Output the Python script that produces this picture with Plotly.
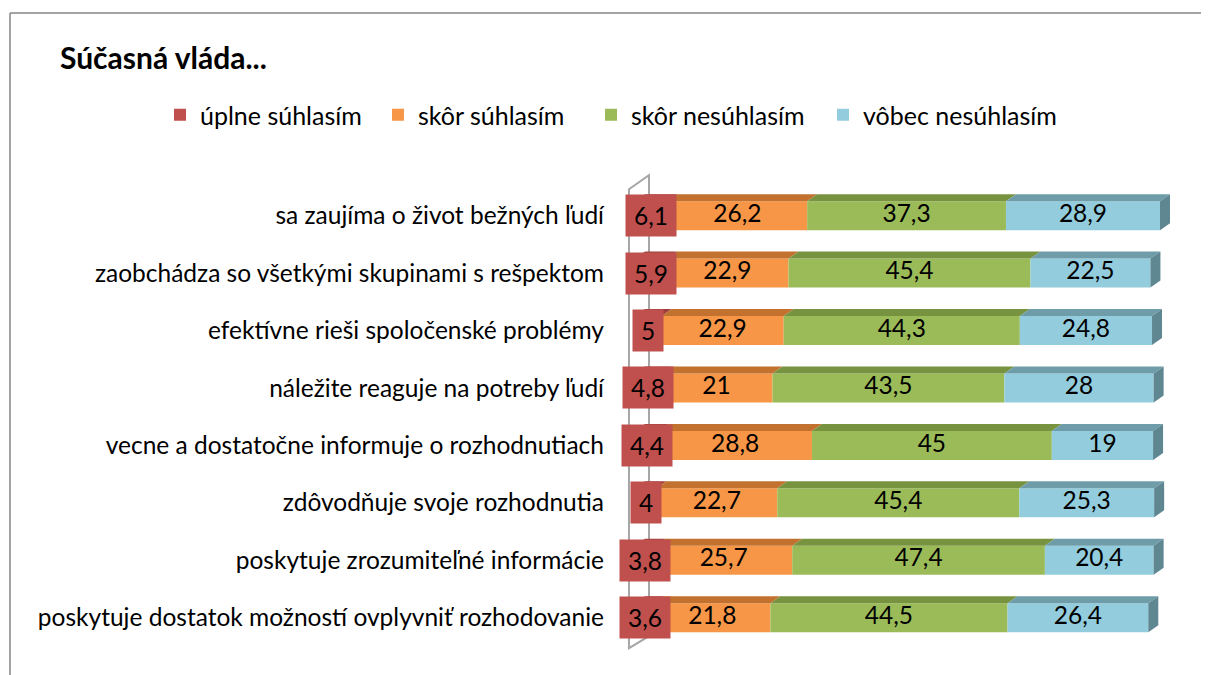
import plotly.graph_objects as go

# ---------------- data ----------------
categories = [
    "sa zaujíma o život bežných ľudí",
    "zaobchádza so všetkými skupinami s rešpektom",
    "efektívne rieši spoločenské problémy",
    "náležite reaguje na potreby ľudí",
    "vecne a dostatočne informuje o rozhodnutiach",
    "zdôvodňuje svoje rozhodnutia",
    "poskytuje zrozumiteľné informácie",
    "poskytuje dostatok možností ovplyvniť rozhodovanie",
]
series_names = ["úplne súhlasím", "skôr súhlasím", "skôr nesúhlasím", "vôbec nesúhlasím"]
uplne_suhlasim = [6.1, 5.9, 5.0, 4.8, 4.4, 4.0, 3.8, 3.6]
skor_suhlasim = [26.2, 22.9, 22.9, 21.0, 28.8, 22.7, 25.7, 21.8]
skor_nesuhlasim = [37.3, 45.4, 44.3, 43.5, 45.0, 45.4, 47.4, 44.5]
vobec_nesuhlasim = [28.9, 22.5, 24.8, 28.0, 19.0, 25.3, 20.4, 26.4]
title_text = "Súčasná vláda..."

# ---------------- style ----------------
FONT = "Lato"
LABEL_SIZE = 24.5
front_colors = ["#C0504D", "#F79646", "#9BBB59", "#93CDDD"]
top_colors = ["#9E3F3C", "#C2712F", "#789340", "#6E9CA9"]
side_color = "#5E8792"
legend_left_px = [160, 378, 591, 823]  # page px of each legend entry

OFF = 8  # default page body margin
W, H = 1209 - OFF, 675 - OFF
L, R, T, B = 619 - OFF, 25, 164 - OFF, 12
plot_w = W - L - R
plot_h = H - T - B
x_range = [-3, 103]
y_top = -0.9
px_per_y = 57.43
y_range = [y_top + plot_h / px_per_y, y_top]  # reversed
px_per_x = plot_w / (x_range[1] - x_range[0])

bar_w = 29 / px_per_y
dx = 10 / px_per_x
dy = 7 / px_per_y

series = [uplne_suhlasim, skor_suhlasim, skor_nesuhlasim, vobec_nesuhlasim]
rows = list(range(len(categories)))
legend_ids = ["legend", "legend2", "legend3", "legend4"]


def fmt(v):
    return f"{v:g}".replace(".", ",")


def px2paper_x(px):
    return (px - OFF - L) / plot_w


def px2paper_y(py):
    return (H - B - (py - OFF)) / plot_h


fig = go.Figure()

bases = []
acc = [0.0] * len(rows)
for s in series:
    bases.append(list(acc))
    acc = [a + v for a, v in zip(acc, s)]

for k, (name, vals) in enumerate(zip(series_names, series)):
    fig.add_trace(go.Bar(
        name=name, orientation="h", x=vals, y=rows, base=bases[k],
        width=bar_w, marker=dict(color=front_colors[k], line=dict(width=0)),
        hoverinfo="skip", legend=legend_ids[k],
    ))

lx, ly, lt = [], [], []
for k in range(1, 4):
    for r in rows:
        lx.append(bases[k][r] + series[k][r] / 2)
        ly.append(r)
        lt.append(fmt(series[k][r]))
fig.add_trace(go.Scatter(
    x=lx, y=ly, text=lt, mode="text", showlegend=False, hoverinfo="skip",
    textfont=dict(family=FONT, size=LABEL_SIZE, color="#000000"),
))

shapes = []
wx0, wx1 = -1.13, 2.63
wall = f"M {wx0},{-0.461} L {wx1},{-0.705} L {wx1},{7.322} L {wx0},{7.531} Z"
shapes.append(dict(type="path", path=wall, xref="x", yref="y",
                   line=dict(color="#A6A6A6", width=2), fillcolor="rgba(0,0,0,0)",
                   layer="below"))

for k in range(4):
    for r in rows:
        s = bases[k][r]
        e = s + series[k][r]
        yt = r - bar_w / 2
        yb = r + bar_w / 2
        path = f"M {s},{yt} L {e},{yt} L {e+dx},{yt-dy} L {s+dx},{yt-dy} Z"
        shapes.append(dict(type="path", path=path, xref="x", yref="y",
                           line=dict(width=0), fillcolor=top_colors[k], layer="above"))
        if k == 3:
            side = f"M {e},{yt} L {e+dx},{yt-dy} L {e+dx},{yb-dy} L {e},{yb} Z"
            shapes.append(dict(type="path", path=side, xref="x", yref="y",
                               line=dict(width=0), fillcolor=side_color, layer="above"))

shapes.append(dict(type="line", xref="paper", yref="paper",
                   x0=px2paper_x(10), x1=px2paper_x(10), y0=px2paper_y(13), y1=px2paper_y(700),
                   line=dict(color="#868686", width=1.5)))
shapes.append(dict(type="line", xref="paper", yref="paper",
                   x0=px2paper_x(10), x1=px2paper_x(1240), y0=px2paper_y(13), y1=px2paper_y(13),
                   line=dict(color="#868686", width=1.5)))


def label_box_width(t):
    return sum(6 if c == "," else 14 for c in t) + 6


annotations = []
for r in rows:
    t = fmt(uplne_suhlasim[r])
    annotations.append(dict(
        x=uplne_suhlasim[r] / 2, y=r, xref="x", yref="y", text=t,
        showarrow=False, bgcolor=front_colors[0], borderpad=5,
        width=label_box_width(t), height=31, align="center", valign="middle",
        font=dict(family=FONT, size=LABEL_SIZE, color="#000000"),
    ))

legends = {}
for k, lid in enumerate(legend_ids):
    legends[lid] = dict(
        orientation="h", xref="paper", yref="paper",
        x=px2paper_x(legend_left_px[k]), xanchor="left",
        y=px2paper_y(115), yanchor="middle",
        font=dict(family=FONT, size=25, color="#000000"),
        bgcolor="rgba(0,0,0,0)",
    )

fig.update_layout(
    width=W, height=H,
    margin=dict(l=L, r=R, t=T, b=B, autoexpand=False),
    paper_bgcolor="white", plot_bgcolor="white",
    barmode="overlay",
    shapes=shapes, annotations=annotations,
    title=dict(text=f"<b>{title_text}</b>", x=(60 - OFF) / W, xanchor="left",
               y=1 - (58 - OFF) / H, yanchor="middle", xref="container", yref="container",
               font=dict(family=FONT, size=30, color="#000000")),
    xaxis=dict(range=x_range, showgrid=False, zeroline=False, showline=False,
               showticklabels=False, fixedrange=True),
    yaxis=dict(range=y_range, tickvals=rows, ticktext=categories, showgrid=False,
               zeroline=False, showline=False, ticks="", ticklabelstandoff=14,
               tickfont=dict(family=FONT, size=LABEL_SIZE, color="#000000")),
    font=dict(family=FONT),
    **legends,
)

fig.write_html("out.html")
